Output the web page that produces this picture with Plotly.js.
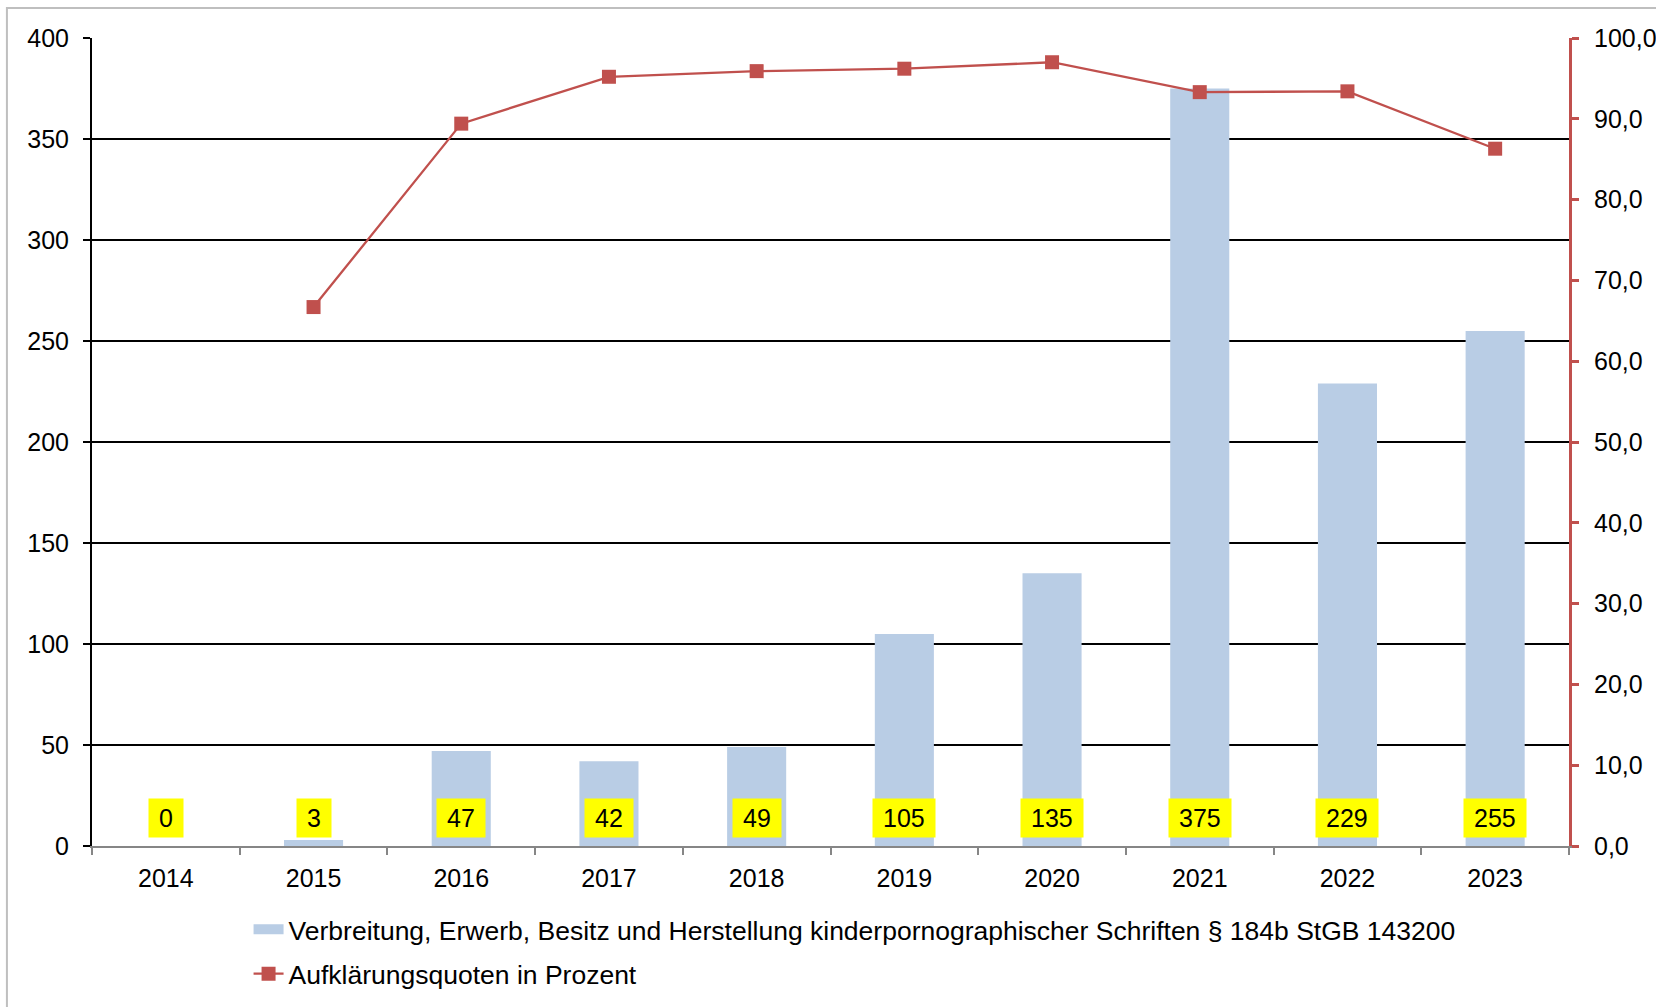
<!DOCTYPE html>
<html>
<head>
<meta charset="utf-8">
<script src="https://cdn.plot.ly/plotly-3.0.1.min.js"></script>
<style>
  html, body { margin: 0; padding: 0; background: #ffffff; }
  #chart { width: 1656px; height: 1007px; }
</style>
</head>
<body>
<div id="chart"></div>
<script>
// ---- data ----
const years = ['2014', '2015', '2016', '2017', '2018', '2019', '2020', '2021', '2022', '2023'];
const cases = [0, 3, 47, 42, 49, 105, 135, 375, 229, 255];
const clearanceRate = [null, 66.7, 89.4, 95.2, 95.9, 96.2, 97.0, 93.3, 93.4, 86.3];
const barName = 'Verbreitung, Erwerb, Besitz und Herstellung kinderpornographischer Schriften § 184b StGB 143200';
const lineName = 'Aufklärungsquoten in Prozent';
const leftTicks = [0, 50, 100, 150, 200, 250, 300, 350, 400];
const rightTicks = [0, 10, 20, 30, 40, 50, 60, 70, 80, 90, 100];

// ---- styles ----
const barColor = '#B9CDE5';
const lineColor = '#C0504D';
const FONT = 'Liberation Sans, Arial, sans-serif';

const traces = [
  {
    type: 'bar', x: years, y: cases, name: barName,
    marker: { color: barColor }, showlegend: false, hoverinfo: 'x+y'
  },
  {
    // legend proxy for the bar series (wide swatch like the original)
    type: 'scatter', mode: 'lines', x: [years[0]], y: [null], name: barName,
    line: { color: barColor, width: 14 }, legendgroup: 'a', showlegend: true, hoverinfo: 'skip'
  },
  {
    type: 'scatter', mode: 'lines+markers', x: years, y: clearanceRate, name: lineName,
    yaxis: 'y2', legendgroup: 'b',
    line: { color: lineColor, width: 2.3 },
    marker: { symbol: 'square', size: 14, color: lineColor },
    connectgaps: false
  }
];

// value labels in yellow boxes near the base of each category
const annotations = years.map((yr, i) => ({
  x: i, y: 0, xref: 'x', yref: 'y',
  yanchor: 'bottom', yshift: 8,
  text: '\u2009' + String(cases[i]) + '\u2009',
  showarrow: false,
  bgcolor: '#FFFF00',
  borderpad: 5,
  font: { family: FONT, size: 25, color: '#000000' }
}));

const layout = {
  width: 1656, height: 1007,
  margin: { l: 92, r: 87, t: 38, b: 161 },
  paper_bgcolor: '#ffffff', plot_bgcolor: '#ffffff',
  font: { family: FONT, size: 25, color: '#000000' },
  separators: ',.',
  bargap: 0.6,
  showlegend: true,
  legend: {
    orientation: 'v',
    xref: 'paper', yref: 'container',
    x: 0.106, xanchor: 'left', y: 0.1008, yanchor: 'top',
    font: { family: FONT, size: 26.5, color: '#000000' },
    traceorder: 'grouped', tracegroupgap: 7,
    bgcolor: 'rgba(0,0,0,0)'
  },
  xaxis: {
    type: 'category',
    categoryorder: 'array', categoryarray: years,
    range: [-0.5, years.length - 0.5],
    autorange: false,
    showgrid: false,
    showline: true, linecolor: '#868686', linewidth: 2,
    ticks: 'outside', tickson: 'boundaries', ticklen: 7, tickcolor: '#868686', tickwidth: 2,
    tickfont: { family: FONT, size: 25, color: '#000000' },
    tickangle: 0,
    ticklabelstandoff: 9,
    automargin: false,
    zeroline: false, fixedrange: true
  },
  yaxis: {
    range: [0, 400], autorange: false,
    tickvals: leftTicks,
    showgrid: true, gridcolor: '#000000', gridwidth: 2,
    showline: true, linecolor: '#000000', linewidth: 2,
    ticks: 'outside', ticklen: 7, tickcolor: '#000000', tickwidth: 2,
    tickfont: { family: FONT, size: 25, color: '#000000' },
    ticklabelstandoff: 9,
    automargin: false,
    zeroline: false, fixedrange: true
  },
  yaxis2: {
    overlaying: 'y', side: 'right',
    range: [0, 100], autorange: false,
    tickvals: rightTicks, tickformat: '.1f',
    showgrid: false,
    showline: true, linecolor: lineColor, linewidth: 3,
    ticks: 'outside', ticklen: 7, tickcolor: lineColor, tickwidth: 3,
    tickfont: { family: FONT, size: 25, color: '#000000' },
    ticklabelstandoff: 10,
    automargin: false,
    zeroline: false, fixedrange: true
  },
  annotations: annotations,
  shapes: [{
    type: 'rect', xref: 'paper', yref: 'paper',
    x0: -0.0576, x1: 1.3, y0: -0.35, y1: 1.0371,
    line: { color: '#BFBFBF', width: 2 }, fillcolor: 'rgba(0,0,0,0)', layer: 'below'
  }]
};

Plotly.newPlot('chart', traces, layout, { displayModeBar: false, staticPlot: true });
</script>
</body>
</html>
